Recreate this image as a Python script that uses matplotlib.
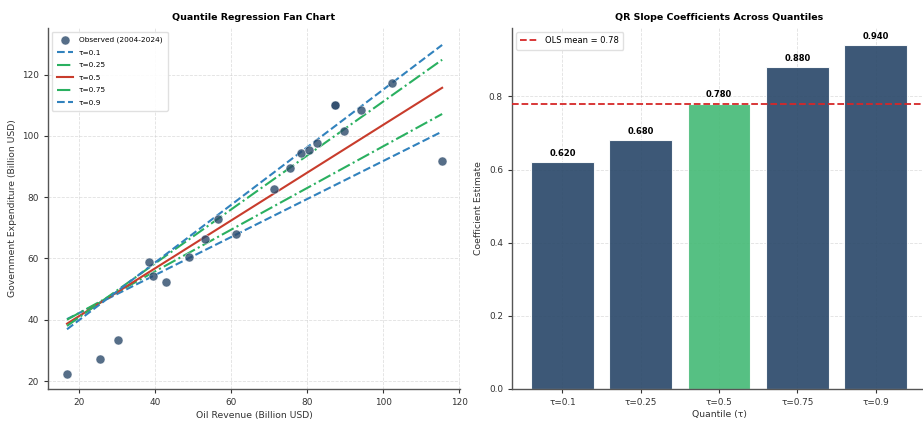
import matplotlib
matplotlib.use("Agg")
import matplotlib.pyplot as plt
import numpy as np

# =========================
# Data
# =========================
oil_revenue = np.array([
    16.8, 25.5, 30.3, 38.5, 39.4, 42.8, 48.8, 53.0, 56.5, 61.3, 71.3,
    75.6, 78.4, 80.5, 82.5, 87.3, 87.4, 89.7, 94.2, 102.4, 115.5,
])
gov_expenditure = np.array([
    22.4, 27.1, 33.4, 58.8, 54.3, 52.4, 60.5, 66.2, 72.8, 68.0, 82.5,
    89.4, 94.5, 95.5, 97.7, 110.0, 110.1, 101.5, 108.5, 117.2, 91.9,
])

quantiles = [0.1, 0.25, 0.5, 0.75, 0.9]
slopes = [0.62, 0.68, 0.78, 0.88, 0.94]
intercepts = [29.8, 28.6, 25.6, 23.2, 21.1]
ols_mean = 0.78

quantile_labels = [f"τ={q}" for q in quantiles]

# styles
point_color = "#2c4a6b"
bar_color = "#2c4a6b"
mid_color = "#48bb78"
line_styles = {
    0.1: ("#3182bd", "--"),
    0.25: ("#2ab060", "-."),
    0.5: ("#c83c2c", "-"),
    0.75: ("#2ab060", "-."),
    0.9: ("#3182bd", "--"),
}

plt.rcParams["font.family"] = ["DejaVu Sans"]

fig = plt.figure(figsize=(9.23, 4.24), dpi=100)
ax1 = fig.add_axes([48 / 923, 35 / 424, 412 / 923, 361 / 424])
ax2 = fig.add_axes([512 / 923, 35 / 424, 414 / 923, 361 / 424])

for ax in (ax1, ax2):
    ax.spines["top"].set_visible(False)
    ax.spines["right"].set_visible(False)
    for side in ("left", "bottom"):
        ax.spines[side].set_color("#555555")
        ax.spines[side].set_linewidth(1.0)
    ax.grid(True, linestyle="--", color="#cccccc", alpha=0.6, linewidth=0.6)
    ax.set_axisbelow(True)
    ax.tick_params(labelsize=6.4, colors="#333333", length=3, width=0.8)

# left: fan chart
ax1.scatter(oil_revenue, gov_expenditure, s=42, color=point_color, alpha=0.8,
            edgecolors="white", linewidths=0.4, label="Observed (2004-2024)", zorder=3)
x_line = np.array([oil_revenue.min(), oil_revenue.max()])
for q, b, a, lab in zip(quantiles, slopes, intercepts, quantile_labels):
    col, ls = line_styles[q]
    ax1.plot(x_line, a + b * x_line, color=col, linestyle=ls, linewidth=1.5, label=lab, zorder=2)
ax1.set_xlim(11.8, 120.2)
ax1.set_ylim(17.4, 135.2)
ax1.set_xticks([20, 40, 60, 80, 100, 120])
ax1.set_yticks([20, 40, 60, 80, 100, 120])
ax1.set_xlabel("Oil Revenue (Billion USD)", fontsize=6.7, color="#333333", labelpad=3)
ax1.set_ylabel("Government Expenditure (Billion USD)", fontsize=6.7, color="#333333", labelpad=4)
ax1.set_title("Quantile Regression Fan Chart", fontsize=6.8, fontweight="bold", pad=6)
ax1.legend(loc="upper left", fontsize=5.3, frameon=True, framealpha=0.9,
           edgecolor="#dddddd", handlelength=2.2, labelspacing=0.85, borderpad=0.7)

# right: slope coefficients
x_pos = np.arange(len(quantiles))
colors = [mid_color if q == 0.5 else bar_color for q in quantiles]
bars = ax2.bar(x_pos, slopes, width=0.8, color=colors, alpha=0.92,
               edgecolor="white", linewidth=0.8, zorder=2)
for rect, val in zip(bars, slopes):
    ax2.text(rect.get_x() + rect.get_width() / 2, val + 0.012, f"{val:.3f}",
             ha="center", va="bottom", fontsize=6.0, fontweight="bold")
ax2.axhline(ols_mean, color="#d62728", linestyle="--", linewidth=1.3,
            label=f"OLS mean = {ols_mean}", zorder=3)
ax2.set_xlim(-0.645, 4.645)
ax2.set_ylim(0, max(slopes) * 1.05)
ax2.set_xticks(x_pos)
ax2.set_xticklabels(quantile_labels)
ax2.set_yticks([0.0, 0.2, 0.4, 0.6, 0.8])
ax2.set_xlabel("Quantile (τ)", fontsize=6.7, color="#333333", labelpad=2)
ax2.set_ylabel("Coefficient Estimate", fontsize=6.7, color="#333333", labelpad=4)
ax2.set_title("QR Slope Coefficients Across Quantiles", fontsize=6.8, fontweight="bold", pad=6)
ax2.legend(loc="upper left", fontsize=6.0, frameon=True, framealpha=0.9,
           edgecolor="#dddddd", handlelength=2.2, borderpad=0.5)

fig.savefig("out.png", dpi=100)
